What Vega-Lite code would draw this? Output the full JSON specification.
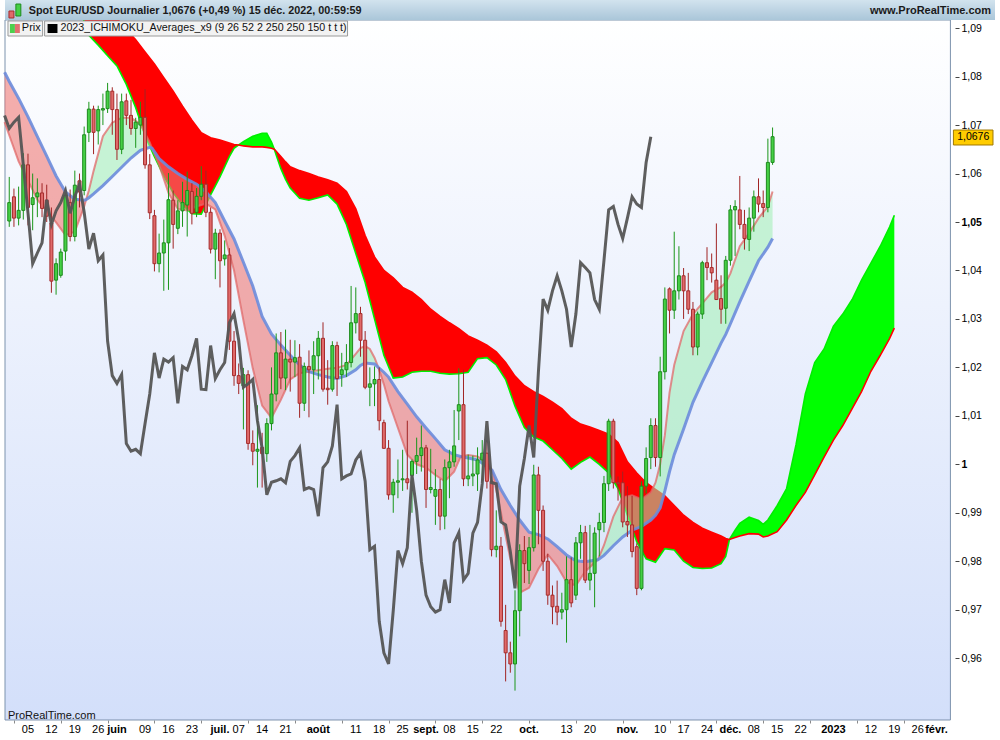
{
"$schema":"https://vega.github.io/schema/vega-lite/v6.json",
"width":1000,"height":740,"autosize":"none","padding":0,"background":"#ffffff",
"config":{"view":{"stroke":null},"font":"Liberation Sans"},
"datasets":{
"xnum":[{"k":4,"lab":"05"},{"k":9,"lab":"12"},{"k":14,"lab":"19"},{"k":19,"lab":"26"},{"k":29,"lab":"09"},{"k":34,"lab":"16"},{"k":39,"lab":"23"},{"k":49,"lab":"07"},{"k":54,"lab":"14"},{"k":59,"lab":"21"},{"k":74,"lab":"11"},{"k":79,"lab":"18"},{"k":84,"lab":"25"},{"k":94,"lab":"08"},{"k":99,"lab":"15"},{"k":104,"lab":"22"},{"k":119,"lab":"13"},{"k":124,"lab":"20"},{"k":139,"lab":"10"},{"k":144,"lab":"17"},{"k":149,"lab":"24"},{"k":159,"lab":"08"},{"k":164,"lab":"15"},{"k":169,"lab":"22"},{"k":184,"lab":"12"},{"k":189,"lab":"19"},{"k":194,"lab":"26"}],
"xmon":[{"k":23,"lab":"juin"},{"k":45,"lab":"juil."},{"k":66,"lab":"août"},{"k":89,"lab":"sept."},{"k":111,"lab":"oct."},{"k":132,"lab":"nov."},{"k":154,"lab":"déc."},{"k":176,"lab":"2023"},{"k":198,"lab":"févr."}],
"ohlc":[
{"k":0,"o":1.0502,"h":1.0593,"l":1.049,"c":1.054},{"k":1,"o":1.0552,"h":1.0569,"l":1.049,"c":1.0508},{"k":2,"o":1.0508,"h":1.0573,"l":1.0493,"c":1.0524},{"k":3,"o":1.0524,"h":1.0642,"l":1.0505,"c":1.0618},{"k":4,"o":1.0618,"h":1.0641,"l":1.0493,"c":1.053},{"k":5,"o":1.0536,"h":1.06,"l":1.0483,"c":1.055},{"k":6,"o":1.0552,"h":1.059,"l":1.051,"c":1.056},{"k":7,"o":1.056,"h":1.058,"l":1.051,"c":1.0528},{"k":8,"o":1.0545,"h":1.0577,"l":1.05,"c":1.0512},{"k":9,"o":1.0498,"h":1.053,"l":1.0354,"c":1.0378},
{"k":10,"o":1.038,"h":1.0425,"l":1.035,"c":1.0414},{"k":11,"o":1.039,"h":1.0445,"l":1.0385,"c":1.0438},{"k":12,"o":1.044,"h":1.056,"l":1.042,"c":1.0555},{"k":13,"o":1.054,"h":1.0567,"l":1.046,"c":1.047},{"k":14,"o":1.047,"h":1.0606,"l":1.046,"c":1.0576},{"k":15,"o":1.0585,"h":1.06,"l":1.053,"c":1.0562},{"k":16,"o":1.0565,"h":1.0697,"l":1.0555,"c":1.068},{"k":17,"o":1.0685,"h":1.0748,"l":1.0665,"c":1.0733},{"k":18,"o":1.0733,"h":1.074,"l":1.064,"c":1.0685},{"k":19,"o":1.0688,"h":1.074,"l":1.066,"c":1.0732},
{"k":20,"o":1.0731,"h":1.0765,"l":1.07,"c":1.0734},{"k":21,"o":1.0734,"h":1.0787,"l":1.0725,"c":1.077},{"k":22,"o":1.077,"h":1.0778,"l":1.068,"c":1.0732},{"k":23,"o":1.0732,"h":1.0765,"l":1.0628,"c":1.065},{"k":24,"o":1.065,"h":1.0765,"l":1.064,"c":1.0748},{"k":25,"o":1.075,"h":1.0765,"l":1.07,"c":1.072},{"k":26,"o":1.072,"h":1.0752,"l":1.068,"c":1.0693},{"k":27,"o":1.0693,"h":1.0715,"l":1.0653,"c":1.0706},{"k":28,"o":1.07,"h":1.0748,"l":1.068,"c":1.0716},{"k":29,"o":1.0716,"h":1.0774,"l":1.061,"c":1.0618},
{"k":30,"o":1.0618,"h":1.064,"l":1.0506,"c":1.0519},{"k":31,"o":1.0513,"h":1.0525,"l":1.0398,"c":1.0414},{"k":32,"o":1.0414,"h":1.0476,"l":1.0396,"c":1.0436},{"k":33,"o":1.0436,"h":1.0505,"l":1.0358,"c":1.0457},{"k":34,"o":1.0457,"h":1.0601,"l":1.036,"c":1.0546},{"k":35,"o":1.0545,"h":1.0565,"l":1.0445,"c":1.0495},{"k":36,"o":1.0487,"h":1.0545,"l":1.0475,"c":1.0523},{"k":37,"o":1.0523,"h":1.0583,"l":1.049,"c":1.054},{"k":38,"o":1.0535,"h":1.0604,"l":1.047,"c":1.0565},{"k":39,"o":1.0563,"h":1.058,"l":1.0495,"c":1.0518},
{"k":40,"o":1.052,"h":1.057,"l":1.051,"c":1.0553},{"k":41,"o":1.0553,"h":1.0615,"l":1.0545,"c":1.0578},{"k":42,"o":1.0578,"h":1.0606,"l":1.051,"c":1.052},{"k":43,"o":1.052,"h":1.053,"l":1.0435,"c":1.0444},{"k":44,"o":1.0444,"h":1.0486,"l":1.0382,"c":1.0477},{"k":45,"o":1.0477,"h":1.0485,"l":1.0365,"c":1.042},{"k":46,"o":1.0424,"h":1.0462,"l":1.041,"c":1.0432},{"k":47,"o":1.0432,"h":1.0446,"l":1.0236,"c":1.0254},{"k":48,"o":1.0254,"h":1.0275,"l":1.0162,"c":1.0183},{"k":49,"o":1.0183,"h":1.0208,"l":1.0145,"c":1.0167},
{"k":50,"o":1.0162,"h":1.0199,"l":1.0072,"c":1.0185},{"k":51,"o":1.0185,"h":1.0194,"l":1.003,"c":1.0043},{"k":52,"o":1.0043,"h":1.007,"l":0.9998,"c":1.0027},{"k":53,"o":1.0027,"h":1.0122,"l":0.9952,"c":1.0031},{"k":54,"o":1.0035,"h":1.0065,"l":0.9952,"c":1.0022},{"k":55,"o":1.0022,"h":1.0095,"l":1.0005,"c":1.0084},{"k":56,"o":1.0084,"h":1.02,"l":1.007,"c":1.0145},{"k":57,"o":1.0145,"h":1.027,"l":1.013,"c":1.023},{"k":58,"o":1.023,"h":1.0273,"l":1.0155,"c":1.0178},{"k":59,"o":1.0178,"h":1.0278,"l":1.0153,"c":1.0217},
{"k":60,"o":1.0217,"h":1.0257,"l":1.015,"c":1.0211},{"k":61,"o":1.0211,"h":1.0256,"l":1.018,"c":1.022},{"k":62,"o":1.0221,"h":1.0248,"l":1.0096,"c":1.0126},{"k":63,"o":1.0126,"h":1.021,"l":1.011,"c":1.0202},{"k":64,"o":1.0202,"h":1.0235,"l":1.0097,"c":1.0195},{"k":65,"o":1.0195,"h":1.0254,"l":1.0145,"c":1.0224},{"k":66,"o":1.0224,"h":1.0275,"l":1.0175,"c":1.026},{"k":67,"o":1.026,"h":1.0293,"l":1.015,"c":1.0155},{"k":68,"o":1.0157,"h":1.0215,"l":1.0123,"c":1.0154},{"k":69,"o":1.0155,"h":1.0254,"l":1.015,"c":1.0245},
{"k":70,"o":1.0245,"h":1.0253,"l":1.0141,"c":1.0177},{"k":71,"o":1.0185,"h":1.023,"l":1.016,"c":1.0195},{"k":72,"o":1.0195,"h":1.0248,"l":1.018,"c":1.021},{"k":73,"o":1.021,"h":1.0368,"l":1.02,"c":1.0292},{"k":74,"o":1.0292,"h":1.0365,"l":1.027,"c":1.0311},{"k":75,"o":1.0311,"h":1.0325,"l":1.0222,"c":1.0256},{"k":76,"o":1.0256,"h":1.0275,"l":1.0155,"c":1.0159},{"k":77,"o":1.0159,"h":1.02,"l":1.012,"c":1.0166},{"k":78,"o":1.0166,"h":1.0202,"l":1.012,"c":1.0175},{"k":79,"o":1.0175,"h":1.02,"l":1.007,"c":1.009},
{"k":80,"o":1.0086,"h":1.0092,"l":1.0032,"c":1.0033},{"k":81,"o":1.0033,"h":1.005,"l":0.9927,"c":0.9937},{"k":82,"o":0.9937,"h":0.997,"l":0.99,"c":0.9963},{"k":83,"o":0.9963,"h":1.001,"l":0.993,"c":0.9966},{"k":84,"o":0.9968,"h":1.003,"l":0.9945,"c":0.997},{"k":85,"o":0.997,"h":1.009,"l":0.9948,"c":0.9962},{"k":86,"o":0.9977,"h":1.001,"l":0.99,"c":1.0006},{"k":87,"o":1.0006,"h":1.0055,"l":0.998,"c":1.0018},{"k":88,"o":1.0018,"h":1.008,"l":0.9985,"c":1.0034},{"k":89,"o":1.0034,"h":1.004,"l":0.991,"c":0.9948},
{"k":90,"o":0.9948,"h":1.0032,"l":0.994,"c":0.9952},{"k":91,"o":0.9934,"h":0.999,"l":0.9875,"c":0.9948},{"k":92,"o":0.9948,"h":0.997,"l":0.9864,"c":0.9893},{"k":93,"o":0.9893,"h":1.001,"l":0.9866,"c":0.9993},{"k":94,"o":0.9993,"h":1.003,"l":0.993,"c":1.0005},{"k":95,"o":1.0005,"h":1.0112,"l":0.9995,"c":1.0038},{"k":96,"o":1.011,"h":1.0198,"l":1.005,"c":1.0123},{"k":97,"o":1.0123,"h":1.0195,"l":0.9955,"c":0.997},{"k":98,"o":0.997,"h":1.002,"l":0.9955,"c":0.9976},{"k":99,"o":0.9976,"h":1.0018,"l":0.9955,"c":0.998},
{"k":100,"o":0.998,"h":1.0035,"l":0.9945,"c":1.0009},{"k":101,"o":1.0009,"h":1.005,"l":0.9965,"c":1.0023},{"k":102,"o":1.0023,"h":1.005,"l":0.995,"c":0.9965},{"k":103,"o":0.9965,"h":0.9975,"l":0.981,"c":0.9824},{"k":104,"o":0.9824,"h":0.9905,"l":0.9808,"c":0.9831},{"k":105,"o":0.9831,"h":0.985,"l":0.9665,"c":0.9676},{"k":106,"o":0.9657,"h":0.971,"l":0.9552,"c":0.9611},{"k":107,"o":0.9611,"h":0.9634,"l":0.957,"c":0.9588},{"k":108,"o":0.9588,"h":0.974,"l":0.9533,"c":0.9698},{"k":109,"o":0.9698,"h":0.9835,"l":0.9645,"c":0.9822},
{"k":110,"o":0.9822,"h":0.9852,"l":0.9755,"c":0.9795},{"k":111,"o":0.9781,"h":0.985,"l":0.9753,"c":0.9828},{"k":112,"o":0.9828,"h":0.9999,"l":0.982,"c":0.9978},{"k":113,"o":0.9978,"h":0.9995,"l":0.9835,"c":0.9905},{"k":114,"o":0.9905,"h":0.9915,"l":0.978,"c":0.98},{"k":115,"o":0.98,"h":0.9815,"l":0.971,"c":0.973},{"k":116,"o":0.973,"h":0.975,"l":0.967,"c":0.9706},{"k":117,"o":0.9707,"h":0.976,"l":0.9668,"c":0.9695},{"k":118,"o":0.9695,"h":0.9735,"l":0.968,"c":0.97},{"k":119,"o":0.97,"h":0.981,"l":0.9632,"c":0.9762},
{"k":120,"o":0.9762,"h":0.9808,"l":0.9705,"c":0.9714},{"k":121,"o":0.973,"h":0.985,"l":0.972,"c":0.9838},{"k":122,"o":0.9838,"h":0.9875,"l":0.9805,"c":0.9859},{"k":123,"o":0.9859,"h":0.9873,"l":0.9755,"c":0.9761},{"k":124,"o":0.9761,"h":0.9875,"l":0.974,"c":0.9775},{"k":125,"o":0.9775,"h":0.987,"l":0.9705,"c":0.9858},{"k":126,"o":0.9865,"h":0.99,"l":0.981,"c":0.988},{"k":127,"o":0.988,"h":0.9976,"l":0.986,"c":0.996},{"k":128,"o":0.996,"h":1.0094,"l":0.9945,"c":1.0089},{"k":129,"o":1.0089,"h":1.0094,"l":0.995,"c":0.9962},
{"k":130,"o":0.9962,"h":0.9975,"l":0.9925,"c":0.996},{"k":131,"o":0.9962,"h":0.9985,"l":0.987,"c":0.9881},{"k":132,"o":0.9882,"h":0.9955,"l":0.985,"c":0.9875},{"k":133,"o":0.9875,"h":0.9935,"l":0.9808,"c":0.982},{"k":134,"o":0.983,"h":0.9837,"l":0.973,"c":0.9744},{"k":135,"o":0.9744,"h":0.9965,"l":0.974,"c":0.9955},{"k":136,"o":0.9955,"h":1.0035,"l":0.994,"c":1.0012},{"k":137,"o":1.0014,"h":1.0095,"l":0.999,"c":1.008},{"k":138,"o":1.008,"h":1.0095,"l":0.9995,"c":1.0014},{"k":139,"o":1.0014,"h":1.0222,"l":0.9975,"c":1.0191},
{"k":140,"o":1.0191,"h":1.0365,"l":1.0175,"c":1.0341},{"k":141,"o":1.0362,"h":1.0365,"l":1.027,"c":1.0318},{"k":142,"o":1.0318,"h":1.048,"l":1.03,"c":1.0358},{"k":143,"o":1.0358,"h":1.045,"l":1.034,"c":1.0389},{"k":144,"o":1.0389,"h":1.0405,"l":1.03,"c":1.0358},{"k":145,"o":1.0358,"h":1.0395,"l":1.031,"c":1.032},{"k":146,"o":1.032,"h":1.0335,"l":1.0225,"c":1.0242},{"k":147,"o":1.0242,"h":1.0315,"l":1.0225,"c":1.031},{"k":148,"o":1.031,"h":1.042,"l":1.03,"c":1.0416},{"k":149,"o":1.0416,"h":1.0448,"l":1.038,"c":1.0406},
{"k":150,"o":1.0406,"h":1.0435,"l":1.0375,"c":1.0395},{"k":151,"o":1.038,"h":1.0497,"l":1.0355,"c":1.034},{"k":152,"o":1.0342,"h":1.039,"l":1.029,"c":1.032},{"k":153,"o":1.0322,"h":1.043,"l":1.029,"c":1.0421},{"k":154,"o":1.0421,"h":1.0535,"l":1.041,"c":1.0525},{"k":155,"o":1.0525,"h":1.0545,"l":1.043,"c":1.0532},{"k":156,"o":1.0525,"h":1.0595,"l":1.0485,"c":1.0495},{"k":157,"o":1.0495,"h":1.0525,"l":1.0443,"c":1.0466},{"k":158,"o":1.0464,"h":1.053,"l":1.044,"c":1.0508},{"k":159,"o":1.0508,"h":1.0565,"l":1.048,"c":1.0552},
{"k":160,"o":1.0552,"h":1.059,"l":1.052,"c":1.0537},{"k":161,"o":1.0538,"h":1.0565,"l":1.051,"c":1.053},{"k":162,"o":1.053,"h":1.0672,"l":1.052,"c":1.0623},{"k":163,"o":1.0623,"h":1.0695,"l":1.0618,"c":1.0676}
],
"chikou":[
{"k":-1,"v":1.072},{"k":0,"v":1.0693},{"k":1,"v":1.0706},{"k":2,"v":1.0716},{"k":3,"v":1.0618},{"k":4,"v":1.0519},{"k":5,"v":1.0414},{"k":6,"v":1.0436},{"k":7,"v":1.0457},{"k":8,"v":1.0546},{"k":9,"v":1.0495},{"k":10,"v":1.0523},{"k":11,"v":1.054},{"k":12,"v":1.0565},{"k":13,"v":1.0518},{"k":14,"v":1.0553},{"k":15,"v":1.0578},{"k":16,"v":1.052},{"k":17,"v":1.0444},{"k":18,"v":1.0477},{"k":19,"v":1.042},{"k":20,"v":1.0432},{"k":21,"v":1.0254},{"k":22,"v":1.0183},{"k":23,"v":1.0167},{"k":24,"v":1.0185},{"k":25,"v":1.0043},{"k":26,"v":1.0027},{"k":27,"v":1.0031},{"k":28,"v":1.0022},{"k":29,"v":1.0084},{"k":30,"v":1.0145},{"k":31,"v":1.023},{"k":32,"v":1.0178},{"k":33,"v":1.0217},{"k":34,"v":1.0211},{"k":35,"v":1.022},{"k":36,"v":1.0126},{"k":37,"v":1.0202},{"k":38,"v":1.0195},{"k":39,"v":1.0224},{"k":40,"v":1.026},{"k":41,"v":1.0155},{"k":42,"v":1.0154},{"k":43,"v":1.0245},{"k":44,"v":1.0177},{"k":45,"v":1.0195},{"k":46,"v":1.021},{"k":47,"v":1.0292},{"k":48,"v":1.0311},{"k":49,"v":1.0256},{"k":50,"v":1.0159},{"k":51,"v":1.0166},{"k":52,"v":1.0175},{"k":53,"v":1.009},{"k":54,"v":1.0033},{"k":55,"v":0.9937},{"k":56,"v":0.9963},{"k":57,"v":0.9966},{"k":58,"v":0.997},{"k":59,"v":0.9962},{"k":60,"v":1.0006},{"k":61,"v":1.0018},{"k":62,"v":1.0034},{"k":63,"v":0.9948},{"k":64,"v":0.9952},{"k":65,"v":0.9948},{"k":66,"v":0.9893},{"k":67,"v":0.9993},{"k":68,"v":1.0005},{"k":69,"v":1.0038},{"k":70,"v":1.0123},{"k":71,"v":0.997},{"k":72,"v":0.9976},{"k":73,"v":0.998},{"k":74,"v":1.0009},{"k":75,"v":1.0023},{"k":76,"v":0.9965},{"k":77,"v":0.9824},{"k":78,"v":0.9831},{"k":79,"v":0.9676},{"k":80,"v":0.9611},{"k":81,"v":0.9588},{"k":82,"v":0.9698},{"k":83,"v":0.9822},{"k":84,"v":0.9795},{"k":85,"v":0.9828},{"k":86,"v":0.9978},{"k":87,"v":0.9905},{"k":88,"v":0.98},{"k":89,"v":0.973},{"k":90,"v":0.9706},{"k":91,"v":0.9695},{"k":92,"v":0.97},{"k":93,"v":0.9762},{"k":94,"v":0.9714},{"k":95,"v":0.9838},{"k":96,"v":0.9859},{"k":97,"v":0.9761},{"k":98,"v":0.9775},{"k":99,"v":0.9858},{"k":100,"v":0.988},{"k":101,"v":0.996},{"k":102,"v":1.0089},{"k":103,"v":0.9962},{"k":104,"v":0.996},{"k":105,"v":0.9881},{"k":106,"v":0.9875},{"k":107,"v":0.982},{"k":108,"v":0.9744},{"k":109,"v":0.9955},{"k":110,"v":1.0012},{"k":111,"v":1.008},{"k":112,"v":1.0014},{"k":113,"v":1.0191},{"k":114,"v":1.0341},{"k":115,"v":1.0318},{"k":116,"v":1.0358},{"k":117,"v":1.0389},{"k":118,"v":1.0358},{"k":119,"v":1.032},{"k":120,"v":1.0242},{"k":121,"v":1.031},{"k":122,"v":1.0416},{"k":123,"v":1.0406},{"k":124,"v":1.0395},{"k":125,"v":1.034},{"k":126,"v":1.032},{"k":127,"v":1.0421},{"k":128,"v":1.0525},{"k":129,"v":1.0532},{"k":130,"v":1.0495},{"k":131,"v":1.0466},{"k":132,"v":1.0508},{"k":133,"v":1.0552},{"k":134,"v":1.0537},{"k":135,"v":1.053},{"k":136,"v":1.0623},{"k":137,"v":1.0676}
],
"avg":[
{"k":-1,"p":1.0706,"bl":1.0809,"s":"s1","t":"dn"},{"k":0,"p":1.0679,"bl":1.079,"s":"s1","t":"dn"},{"k":2,"p":1.0625,"bl":1.0755,"s":"s1","t":"dn"},{"k":4,"p":1.0586,"bl":1.0717,"s":"s1","t":"dn"},{"k":6,"p":1.0546,"bl":1.0676,"s":"s1","t":"dn"},{"k":8,"p":1.0523,"bl":1.0636,"s":"s1","t":"dn"},{"k":10,"p":1.0499,"bl":1.0595,"s":"s1","t":"dn"},{"k":12,"p":1.0473,"bl":1.0562,"s":"s1","t":"dn"},{"k":14,"p":1.048,"bl":1.0547,"s":"s1","t":"dn"},{"k":16,"p":1.0532,"bl":1.0545,"s":"s1","t":"dn"},{"k":16.4,"p":1.0546,"bl":1.0546,"s":"s1","t":"dn"},
{"k":16.4,"p":1.0546,"bl":1.0546,"s":"s2","t":"up"},{"k":17,"p":1.0565,"bl":1.055,"s":"s2","t":"up"},{"k":18,"p":1.0605,"bl":1.0558,"s":"s2","t":"up"},{"k":20,"p":1.0677,"bl":1.0575,"s":"s2","t":"up"},{"k":22,"p":1.0705,"bl":1.0594,"s":"s2","t":"up"},{"k":24,"p":1.0715,"bl":1.0613,"s":"s2","t":"up"},{"k":26,"p":1.0715,"bl":1.0632,"s":"s2","t":"up"},{"k":28,"p":1.0702,"bl":1.0648,"s":"s2","t":"up"},{"k":30,"p":1.0664,"bl":1.0654,"s":"s2","t":"up"},{"k":30.5,"p":1.0652,"bl":1.0652,"s":"s2","t":"up"},
{"k":30.5,"p":1.0652,"bl":1.0652,"s":"s3","t":"dn"},{"k":32,"p":1.0618,"bl":1.0631,"s":"s3","t":"dn"},{"k":34,"p":1.056,"bl":1.0614,"s":"s3","t":"dn"},{"k":36,"p":1.0527,"bl":1.06,"s":"s3","t":"dn"},{"k":38,"p":1.0524,"bl":1.0588,"s":"s3","t":"dn"},{"k":40,"p":1.0532,"bl":1.0578,"s":"s3","t":"dn"},{"k":42,"p":1.0538,"bl":1.0562,"s":"s3","t":"dn"},{"k":44,"p":1.0526,"bl":1.054,"s":"s3","t":"dn"},{"k":46,"p":1.0472,"bl":1.0502,"s":"s3","t":"dn"},{"k":48,"p":1.04,"bl":1.0465,"s":"s3","t":"dn"},{"k":50,"p":1.0297,"bl":1.0417,"s":"s3","t":"dn"},{"k":52,"p":1.0198,"bl":1.0368,"s":"s3","t":"dn"},{"k":54,"p":1.0121,"bl":1.0305,"s":"s3","t":"dn"},{"k":56,"p":1.0096,"bl":1.0269,"s":"s3","t":"dn"},{"k":58,"p":1.0133,"bl":1.0246,"s":"s3","t":"dn"},{"k":60,"p":1.0175,"bl":1.0225,"s":"s3","t":"dn"},{"k":62,"p":1.0188,"bl":1.0205,"s":"s3","t":"dn"},{"k":64,"p":1.0191,"bl":1.0191,"s":"s3","t":"dn"},
{"k":64,"p":1.0191,"bl":1.0191,"s":"s4","t":"up"},{"k":66,"p":1.0194,"bl":1.0185,"s":"s4","t":"up"},{"k":68,"p":1.0197,"bl":1.018,"s":"s4","t":"up"},{"k":70,"p":1.0199,"bl":1.0177,"s":"s4","t":"up"},{"k":72,"p":1.0205,"bl":1.0183,"s":"s4","t":"up"},{"k":74,"p":1.0228,"bl":1.0195,"s":"s4","t":"up"},{"k":75,"p":1.024,"bl":1.0204,"s":"s4","t":"up"},{"k":76,"p":1.0244,"bl":1.0209,"s":"s4","t":"up"},{"k":77,"p":1.0238,"bl":1.0208,"s":"s4","t":"up"},{"k":78,"p":1.022,"bl":1.0207,"s":"s4","t":"up"},{"k":78.8,"p":1.02,"bl":1.02,"s":"s4","t":"up"},
{"k":78.8,"p":1.02,"bl":1.02,"s":"s5","t":"dn"},{"k":80,"p":1.0165,"bl":1.019,"s":"s5","t":"dn"},{"k":81,"p":1.013,"bl":1.018,"s":"s5","t":"dn"},{"k":83,"p":1.0075,"bl":1.015,"s":"s5","t":"dn"},{"k":85,"p":1.002,"bl":1.0124,"s":"s5","t":"dn"},{"k":87,"p":1.0,"bl":1.0098,"s":"s5","t":"dn"},{"k":89,"p":0.9993,"bl":1.0075,"s":"s5","t":"dn"},{"k":91,"p":0.9978,"bl":1.0053,"s":"s5","t":"dn"},{"k":93,"p":0.9965,"bl":1.003,"s":"s5","t":"dn"},{"k":95,"p":0.9985,"bl":1.002,"s":"s5","t":"dn"},{"k":96.4,"p":1.0016,"bl":1.0016,"s":"s5","t":"dn"},
{"k":96.4,"p":1.0016,"bl":1.0016,"s":"s6","t":"up"},{"k":98,"p":1.0019,"bl":1.0013,"s":"s6","t":"up"},{"k":100,"p":1.0016,"bl":1.0009,"s":"s6","t":"up"},{"k":102,"p":1.0003,"bl":0.9996,"s":"s6","t":"up"},{"k":103.1,"p":0.9988,"bl":0.9988,"s":"s6","t":"up"},
{"k":103.1,"p":0.9988,"bl":0.9988,"s":"s7","t":"dn"},{"k":105,"p":0.99,"bl":0.9948,"s":"s7","t":"dn"},{"k":107,"p":0.9805,"bl":0.9915,"s":"s7","t":"dn"},{"k":109,"p":0.9735,"bl":0.9885,"s":"s7","t":"dn"},{"k":111,"p":0.9745,"bl":0.986,"s":"s7","t":"dn"},{"k":113,"p":0.9784,"bl":0.9855,"s":"s7","t":"dn"},{"k":115,"p":0.9814,"bl":0.9846,"s":"s7","t":"dn"},{"k":117,"p":0.979,"bl":0.983,"s":"s7","t":"dn"},{"k":119,"p":0.9757,"bl":0.9813,"s":"s7","t":"dn"},{"k":121,"p":0.975,"bl":0.9801,"s":"s7","t":"dn"},{"k":123,"p":0.9779,"bl":0.9799,"s":"s7","t":"dn"},{"k":125,"p":0.9797,"bl":0.9802,"s":"s7","t":"dn"},{"k":125.7,"p":0.9803,"bl":0.9803,"s":"s7","t":"dn"},
{"k":125.7,"p":0.9803,"bl":0.9803,"s":"s8","t":"up"},{"k":127,"p":0.9833,"bl":0.9812,"s":"s8","t":"up"},{"k":129,"p":0.9892,"bl":0.9832,"s":"s8","t":"up"},{"k":131,"p":0.9932,"bl":0.985,"s":"s8","t":"up"},{"k":133,"p":0.9936,"bl":0.9864,"s":"s8","t":"up"},{"k":135,"p":0.9928,"bl":0.9872,"s":"s8","t":"up"},{"k":137,"p":0.9942,"bl":0.9885,"s":"s8","t":"up"},{"k":138,"p":0.9962,"bl":0.9895,"s":"s8","t":"up"},{"k":139,"p":1.0,"bl":0.991,"s":"s8","t":"up"},{"k":140,"p":1.006,"bl":0.9945,"s":"s8","t":"up"},{"k":141,"p":1.0148,"bl":0.9985,"s":"s8","t":"up"},{"k":142,"p":1.0205,"bl":1.002,"s":"s8","t":"up"},{"k":144,"p":1.0275,"bl":1.0073,"s":"s8","t":"up"},{"k":146,"p":1.031,"bl":1.0128,"s":"s8","t":"up"},{"k":148,"p":1.0332,"bl":1.017,"s":"s8","t":"up"},{"k":150,"p":1.0355,"bl":1.021,"s":"s8","t":"up"},{"k":152,"p":1.0366,"bl":1.025,"s":"s8","t":"up"},{"k":153,"p":1.0375,"bl":1.0268,"s":"s8","t":"up"},{"k":154,"p":1.0394,"bl":1.029,"s":"s8","t":"up"},{"k":156,"p":1.045,"bl":1.0335,"s":"s8","t":"up"},{"k":158,"p":1.0477,"bl":1.0378,"s":"s8","t":"up"},{"k":160,"p":1.0508,"bl":1.042,"s":"s8","t":"up"},{"k":162,"p":1.0532,"bl":1.0448,"s":"s8","t":"up"},{"k":163,"p":1.0563,"bl":1.0466,"s":"s8","t":"up"}
],
"cloud":[
{"k":14,"a":1.097,"b":1.103,"s":"r1","t":"bear"},{"k":17,"a":1.0885,"b":1.099,"s":"r1","t":"bear"},{"k":19,"a":1.0865,"b":1.0965,"s":"r1","t":"bear"},{"k":21,"a":1.0843,"b":1.094,"s":"r1","t":"bear"},{"k":23,"a":1.0822,"b":1.092,"s":"r1","t":"bear"},{"k":25,"a":1.0784,"b":1.0897,"s":"r1","t":"bear"},{"k":27,"a":1.0736,"b":1.0876,"s":"r1","t":"bear"},{"k":29,"a":1.0678,"b":1.0851,"s":"r1","t":"bear"},{"k":31,"a":1.0635,"b":1.0826,"s":"r1","t":"bear"},{"k":33,"a":1.0595,"b":1.0798,"s":"r1","t":"bear"},{"k":35,"a":1.056,"b":1.077,"s":"r1","t":"bear"},{"k":37,"a":1.0535,"b":1.0739,"s":"r1","t":"bear"},{"k":39,"a":1.0517,"b":1.071,"s":"r1","t":"bear"},{"k":41,"a":1.0516,"b":1.0684,"s":"r1","t":"bear"},{"k":43,"a":1.0556,"b":1.0674,"s":"r1","t":"bear"},{"k":45,"a":1.0593,"b":1.0669,"s":"r1","t":"bear"},{"k":47,"a":1.0635,"b":1.0663,"s":"r1","t":"bear"},{"k":48,"a":1.0652,"b":1.066,"s":"r1","t":"bear"},{"k":49,"a":1.0659,"b":1.0659,"s":"r1","t":"bear"},
{"k":49,"a":1.0659,"b":1.0659,"s":"g1","t":"bull"},{"k":50,"a":1.0666,"b":1.0657,"s":"g1","t":"bull"},{"k":52,"a":1.0677,"b":1.0655,"s":"g1","t":"bull"},{"k":54,"a":1.0683,"b":1.0655,"s":"g1","t":"bull"},{"k":55,"a":1.0683,"b":1.0654,"s":"g1","t":"bull"},{"k":56,"a":1.0665,"b":1.0652,"s":"g1","t":"bull"},{"k":56.6,"a":1.065,"b":1.065,"s":"g1","t":"bull"},
{"k":56.6,"a":1.065,"b":1.065,"s":"r2","t":"bear"},{"k":57,"a":1.0638,"b":1.0646,"s":"r2","t":"bear"},{"k":58,"a":1.061,"b":1.0635,"s":"r2","t":"bear"},{"k":59,"a":1.0588,"b":1.0624,"s":"r2","t":"bear"},{"k":60,"a":1.057,"b":1.0614,"s":"r2","t":"bear"},{"k":62,"a":1.0549,"b":1.0606,"s":"r2","t":"bear"},{"k":64,"a":1.0545,"b":1.06,"s":"r2","t":"bear"},{"k":66,"a":1.055,"b":1.0593,"s":"r2","t":"bear"},{"k":68,"a":1.0556,"b":1.0587,"s":"r2","t":"bear"},{"k":70,"a":1.0537,"b":1.058,"s":"r2","t":"bear"},{"k":72,"a":1.0495,"b":1.0563,"s":"r2","t":"bear"},{"k":74,"a":1.0435,"b":1.0527,"s":"r2","t":"bear"},{"k":76,"a":1.0375,"b":1.0472,"s":"r2","t":"bear"},{"k":78,"a":1.03,"b":1.0428,"s":"r2","t":"bear"},{"k":80,"a":1.0225,"b":1.04,"s":"r2","t":"bear"},{"k":82,"a":1.0178,"b":1.0385,"s":"r2","t":"bear"},{"k":84,"a":1.018,"b":1.0365,"s":"r2","t":"bear"},{"k":86,"a":1.019,"b":1.0355,"s":"r2","t":"bear"},{"k":88,"a":1.0192,"b":1.034,"s":"r2","t":"bear"},{"k":90,"a":1.0192,"b":1.032,"s":"r2","t":"bear"},{"k":92,"a":1.0188,"b":1.0305,"s":"r2","t":"bear"},{"k":94,"a":1.0186,"b":1.0292,"s":"r2","t":"bear"},{"k":96,"a":1.0187,"b":1.028,"s":"r2","t":"bear"},{"k":98,"a":1.019,"b":1.0265,"s":"r2","t":"bear"},{"k":100,"a":1.0218,"b":1.0256,"s":"r2","t":"bear"},{"k":102,"a":1.022,"b":1.0246,"s":"r2","t":"bear"},{"k":104,"a":1.0205,"b":1.0232,"s":"r2","t":"bear"},{"k":106,"a":1.0175,"b":1.021,"s":"r2","t":"bear"},{"k":108,"a":1.012,"b":1.0182,"s":"r2","t":"bear"},{"k":110,"a":1.0076,"b":1.0162,"s":"r2","t":"bear"},{"k":112,"a":1.0056,"b":1.015,"s":"r2","t":"bear"},{"k":114,"a":1.0048,"b":1.014,"s":"r2","t":"bear"},{"k":116,"a":1.003,"b":1.0128,"s":"r2","t":"bear"},{"k":118,"a":1.0012,"b":1.0115,"s":"r2","t":"bear"},{"k":120,"a":0.999,"b":1.0095,"s":"r2","t":"bear"},{"k":122,"a":1.0004,"b":1.0083,"s":"r2","t":"bear"},{"k":124,"a":1.0015,"b":1.0077,"s":"r2","t":"bear"},{"k":126,"a":1.0,"b":1.007,"s":"r2","t":"bear"},{"k":128,"a":0.9982,"b":1.0062,"s":"r2","t":"bear"},{"k":130,"a":0.995,"b":1.0045,"s":"r2","t":"bear"},{"k":132,"a":0.9895,"b":1.0005,"s":"r2","t":"bear"},{"k":134,"a":0.984,"b":0.9982,"s":"r2","t":"bear"},{"k":136,"a":0.9805,"b":0.9962,"s":"r2","t":"bear"},{"k":138,"a":0.9798,"b":0.9948,"s":"r2","t":"bear"},{"k":140,"a":0.9826,"b":0.9935,"s":"r2","t":"bear"},{"k":142,"a":0.9823,"b":0.9915,"s":"r2","t":"bear"},{"k":144,"a":0.98,"b":0.9895,"s":"r2","t":"bear"},{"k":146,"a":0.9787,"b":0.988,"s":"r2","t":"bear"},{"k":148,"a":0.9785,"b":0.9868,"s":"r2","t":"bear"},{"k":150,"a":0.9786,"b":0.986,"s":"r2","t":"bear"},{"k":152,"a":0.9795,"b":0.9852,"s":"r2","t":"bear"},{"k":153,"a":0.981,"b":0.9847,"s":"r2","t":"bear"},{"k":153.8,"a":0.9845,"b":0.9845,"s":"r2","t":"bear"},
{"k":153.8,"a":0.9845,"b":0.9845,"s":"g2","t":"bull"},{"k":155,"a":0.9864,"b":0.9849,"s":"g2","t":"bull"},{"k":156,"a":0.9878,"b":0.9852,"s":"g2","t":"bull"},{"k":158,"a":0.9891,"b":0.9857,"s":"g2","t":"bull"},{"k":160,"a":0.9884,"b":0.9856,"s":"g2","t":"bull"},{"k":161,"a":0.9876,"b":0.985,"s":"g2","t":"bull"},{"k":162,"a":0.9885,"b":0.9852,"s":"g2","t":"bull"},{"k":164,"a":0.9915,"b":0.9861,"s":"g2","t":"bull"},{"k":166,"a":0.995,"b":0.9885,"s":"g2","t":"bull"},{"k":168,"a":1.004,"b":0.9915,"s":"g2","t":"bull"},{"k":170,"a":1.0145,"b":0.9942,"s":"g2","t":"bull"},{"k":172,"a":1.021,"b":0.9978,"s":"g2","t":"bull"},{"k":174,"a":1.0238,"b":1.0015,"s":"g2","t":"bull"},{"k":176,"a":1.0285,"b":1.005,"s":"g2","t":"bull"},{"k":178,"a":1.031,"b":1.008,"s":"g2","t":"bull"},{"k":180,"a":1.034,"b":1.0115,"s":"g2","t":"bull"},{"k":182,"a":1.038,"b":1.015,"s":"g2","t":"bull"},{"k":184,"a":1.0415,"b":1.0192,"s":"g2","t":"bull"},{"k":186,"a":1.045,"b":1.0225,"s":"g2","t":"bull"},{"k":188,"a":1.049,"b":1.026,"s":"g2","t":"bull"},{"k":189,"a":1.0514,"b":1.0281,"s":"g2","t":"bull"}
]
},
"layer":[
{"data":{"values":[{}]},"mark":{"type":"rect","fill":{"gradient":"linear","x1":0,"y1":0,"x2":0,"y2":1,"stops":[{"offset":0,"color":"#ffffff"},{"offset":1,"color":"#d3dffa"}]},"stroke":"#7d93ad","strokeWidth":1},
 "encoding":{"x":{"datum":-0.909,"type":"quantitative","title":null,"scale":{"domain":[-0.909,210.5],"nice":false,"zero":false}},"x2":{"datum":200.98},"y":{"datum":1.09168,"type":"quantitative","title":null,"scale":{"domain":[0.94311,1.09581],"nice":false,"zero":false}},"y2":{"datum":0.94724}}},
{"data":{"name":"cloud"},"transform":[{"filter":"datum.t == 'bear'"}],"mark":{"type":"area","color":"#ff0000","opacity":1,"clip":true},"encoding":{"x":{"field":"k","type":"quantitative","title":null},"y":{"field":"a","type":"quantitative","title":null},"y2":{"field":"b"},"detail":{"field":"s"}}},
{"data":{"name":"cloud"},"transform":[{"filter":"datum.t == 'bull'"}],"mark":{"type":"area","color":"#00ff00","opacity":1,"clip":true},"encoding":{"x":{"field":"k","type":"quantitative","title":null},"y":{"field":"a","type":"quantitative","title":null},"y2":{"field":"b"},"detail":{"field":"s"}}},
{"data":{"name":"cloud"},"mark":{"type":"line","color":"#00ee00","strokeWidth":1.6,"clip":true},"encoding":{"x":{"field":"k","type":"quantitative","title":null},"y":{"field":"a","type":"quantitative","title":null}}},
{"data":{"name":"cloud"},"mark":{"type":"line","color":"#ff0000","strokeWidth":1.6,"clip":true},"encoding":{"x":{"field":"k","type":"quantitative","title":null},"y":{"field":"b","type":"quantitative","title":null}}},
{"data":{"name":"avg"},"transform":[{"filter":"datum.t == 'dn'"}],"mark":{"type":"area","color":"#f07a74","opacity":0.6,"clip":true},"encoding":{"x":{"field":"k","type":"quantitative","title":null},"y":{"field":"p","type":"quantitative","title":null},"y2":{"field":"bl"},"detail":{"field":"s"}}},
{"data":{"name":"avg"},"transform":[{"filter":"datum.t == 'up'"}],"mark":{"type":"area","color":"#9eeeb3","opacity":0.55,"clip":true},"encoding":{"x":{"field":"k","type":"quantitative","title":null},"y":{"field":"p","type":"quantitative","title":null},"y2":{"field":"bl"},"detail":{"field":"s"}}},
{"data":{"name":"avg"},"mark":{"type":"line","color":"#e06a6a","opacity":0.75,"strokeWidth":2,"clip":true},"encoding":{"x":{"field":"k","type":"quantitative","title":null},"y":{"field":"p","type":"quantitative","title":null}}},
{"data":{"name":"avg"},"mark":{"type":"line","color":"#6c8cdc","opacity":0.9,"strokeWidth":3,"clip":true},"encoding":{"x":{"field":"k","type":"quantitative","title":null},"y":{"field":"bl","type":"quantitative","title":null}}},
{"data":{"name":"ohlc"},"transform":[{"filter":"datum.c >= datum.o"}],"mark":{"type":"rule","color":"#1a961a","strokeWidth":1,"clip":true},
 "encoding":{"x":{"field":"k","type":"quantitative","title":null,"scale":{"domain":[-0.909,210.5],"nice":false,"zero":false},
   "axis":{"orient":"bottom","offset":-20,"domain":false,"ticks":true,"tickSize":3,"tickColor":"#8a8a8a","labels":false,"grid":false,
     "values":[1,6,11,16,21,26,31,36,41,46,51,56,61,66,71,76,81,86,91,96,101,106,111,116,121,126,131,136,141,146,151,156,161,166,171,176,181,186,191,196]}},
  "y":{"field":"l","type":"quantitative","title":null,"scale":{"domain":[0.94311,1.09581],"nice":false,"zero":false},
   "axis":{"orient":"right","offset":-45,"domain":false,"ticks":true,"tickSize":4,"tickColor":"#444444","grid":false,"labelFont":"Liberation Sans","labelFontSize":10.5,"labelColor":"#000000","labelPadding":2,"labelOverlap":false,"labelBound":false,"labelFlush":false,
     "values":[0.96,0.97,0.98,0.99,1,1.01,1.02,1.03,1.04,1.05,1.06,1.07,1.08,1.09],
     "labelExpr":"datum.value == 1 ? '1' : replace(format(datum.value, '.2f'), '.', ',')",
     "labelFontWeight":{"condition":{"test":"abs(datum.value - 1.05) < 0.001 || abs(datum.value - 1) < 0.001","value":"bold"},"value":"normal"}}},
  "y2":{"field":"h"}}},
{"data":{"name":"ohlc"},"transform":[{"filter":"datum.c < datum.o"}],"mark":{"type":"rule","color":"#a02424","strokeWidth":1,"clip":true},"encoding":{"x":{"field":"k","type":"quantitative","title":null},"y":{"field":"l","type":"quantitative","title":null},"y2":{"field":"h"}}},
{"data":{"name":"ohlc"},"transform":[{"filter":"datum.c >= datum.o"}],"mark":{"type":"bar","size":3,"fill":"#45d045","stroke":"#1d8a1d","strokeWidth":1,"opacity":1,"clip":true},"encoding":{"x":{"field":"k","type":"quantitative","title":null},"y":{"field":"o","type":"quantitative","title":null},"y2":{"field":"c"}}},
{"data":{"name":"ohlc"},"transform":[{"filter":"datum.c < datum.o"}],"mark":{"type":"bar","size":3,"fill":"#e06a6a","stroke":"#a52c2c","strokeWidth":1,"opacity":1,"clip":true},"encoding":{"x":{"field":"k","type":"quantitative","title":null},"y":{"field":"o","type":"quantitative","title":null},"y2":{"field":"c"}}},
{"data":{"name":"chikou"},"mark":{"type":"line","color":"#555555","opacity":0.95,"strokeWidth":3,"clip":true},"encoding":{"x":{"field":"k","type":"quantitative","title":null},"y":{"field":"v","type":"quantitative","title":null}}},
{"data":{"name":"xnum"},"mark":{"type":"text","align":"center","baseline":"middle","font":"Liberation Sans","fontSize":11,"color":"#000000"},"encoding":{"x":{"field":"k","type":"quantitative","title":null},"y":{"datum":0.94517,"type":"quantitative","title":null},"text":{"field":"lab"}}},
{"data":{"name":"xmon"},"mark":{"type":"text","align":"center","baseline":"middle","font":"Liberation Sans","fontSize":11,"fontWeight":"bold","color":"#000000"},"encoding":{"x":{"field":"k","type":"quantitative","title":null},"y":{"datum":0.94517,"type":"quantitative","title":null},"text":{"field":"lab"}}},
{"data":{"values":[{}]},"mark":{"type":"rect","fill":{"gradient":"linear","x1":0,"y1":0,"x2":0,"y2":1,"stops":[{"offset":0,"color":"#d2e3ee"},{"offset":1,"color":"#aac6d9"}]}},"encoding":{"x":{"datum":-0.909,"type":"quantitative","title":null},"x2":{"datum":210.5},"y":{"datum":1.09581,"type":"quantitative","title":null},"y2":{"datum":1.09168}}},
{"data":{"values":[{}]},"mark":{"type":"rect","fill":"#e06a6a","stroke":"#a52c2c","strokeWidth":1},"encoding":{"x":{"datum":-0.063,"type":"quantitative","title":null},"x2":{"datum":0.994},"y":{"datum":1.09354,"type":"quantitative","title":null},"y2":{"datum":1.0921}}},
{"data":{"values":[{}]},"mark":{"type":"rect","fill":"#45d045","stroke":"#1d8a1d","strokeWidth":1},"encoding":{"x":{"datum":1.416,"type":"quantitative","title":null},"x2":{"datum":2.474},"y":{"datum":1.09498,"type":"quantitative","title":null},"y2":{"datum":1.09251}}},
{"data":{"values":[{}]},"mark":{"type":"text","text":"Spot EUR/USD Journalier 1,0676 (+0,49 %) 15 déc. 2022, 00:59:59","align":"left","baseline":"middle","font":"Liberation Sans","fontSize":10.8,"fontWeight":"bold","color":"#1a1a1a"},"encoding":{"x":{"datum":4.165,"type":"quantitative","title":null},"y":{"datum":1.09354,"type":"quantitative","title":null}}},
{"data":{"values":[{}]},"mark":{"type":"text","text":"www.ProRealTime.com","align":"right","baseline":"middle","font":"Liberation Sans","fontSize":11,"fontWeight":"bold","color":"#1a1a1a"},"encoding":{"x":{"datum":209.65,"type":"quantitative","title":null},"y":{"datum":1.09354,"type":"quantitative","title":null}}},
{"data":{"values":[{}]},"mark":{"type":"rect","fill":"#f2f2f2","stroke":"#9a9a9a","strokeWidth":1},"encoding":{"x":{"datum":-0.275,"type":"quantitative","title":null},"x2":{"datum":7.125},"y":{"datum":1.09148,"type":"quantitative","title":null},"y2":{"datum":1.08838}}},
{"data":{"values":[{}]},"mark":{"type":"rect","fill":"#f2f2f2","stroke":"#9a9a9a","strokeWidth":1},"encoding":{"x":{"datum":7.547,"type":"quantitative","title":null},"x2":{"datum":72.24},"y":{"datum":1.09148,"type":"quantitative","title":null},"y2":{"datum":1.08838}}},
{"data":{"values":[{}]},"mark":{"type":"rect","fill":"#4cd04c"},"encoding":{"x":{"datum":0.148,"type":"quantitative","title":null},"x2":{"datum":1.205},"y":{"datum":1.09086,"type":"quantitative","title":null},"y2":{"datum":1.089}}},
{"data":{"values":[{}]},"mark":{"type":"rect","fill":"#e07070"},"encoding":{"x":{"datum":1.205,"type":"quantitative","title":null},"x2":{"datum":2.262},"y":{"datum":1.09086,"type":"quantitative","title":null},"y2":{"datum":1.089}}},
{"data":{"values":[{}]},"mark":{"type":"rect","fill":"#000000"},"encoding":{"x":{"datum":8.181,"type":"quantitative","title":null},"x2":{"datum":10.295},"y":{"datum":1.09086,"type":"quantitative","title":null},"y2":{"datum":1.089}}},
{"data":{"values":[{}]},"mark":{"type":"text","text":"Prix","align":"left","baseline":"middle","font":"Liberation Sans","fontSize":11,"color":"#111111"},"encoding":{"x":{"datum":2.685,"type":"quantitative","title":null},"y":{"datum":1.08993,"type":"quantitative","title":null}}},
{"data":{"values":[{}]},"mark":{"type":"text","text":"2023_ICHIMOKU_Averages_x9 (9 26 52 2 250 250 150 t t t)","align":"left","baseline":"middle","font":"Liberation Sans","fontSize":10.7,"color":"#111111"},"encoding":{"x":{"datum":10.93,"type":"quantitative","title":null},"y":{"datum":1.08993,"type":"quantitative","title":null}}},
{"data":{"values":[{}]},"mark":{"type":"rect","fill":"#ffcc00","stroke":"#a07800","strokeWidth":1},"encoding":{"x":{"datum":201.62,"type":"quantitative","title":null},"x2":{"datum":210.07},"y":{"datum":1.06898,"type":"quantitative","title":null},"y2":{"datum":1.06589}}},
{"data":{"values":[{}]},"mark":{"type":"text","text":"1,0676","align":"center","baseline":"middle","font":"Liberation Sans","fontSize":10.5,"color":"#000000"},"encoding":{"x":{"datum":205.85,"type":"quantitative","title":null},"y":{"datum":1.06744,"type":"quantitative","title":null}}},
{"data":{"values":[{}]},"mark":{"type":"text","text":"ProRealTime.com","align":"left","baseline":"middle","font":"Liberation Sans","fontSize":11,"color":"#111111"},"encoding":{"x":{"datum":-0.275,"type":"quantitative","title":null},"y":{"datum":0.94806,"type":"quantitative","title":null}}}
]
}
